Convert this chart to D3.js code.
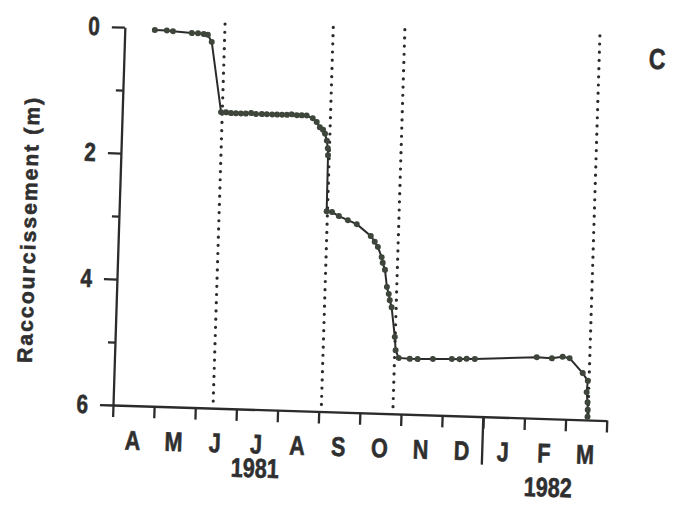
<!DOCTYPE html>
<html>
<head>
<meta charset="utf-8">
<script src="https://cdn.jsdelivr.net/npm/d3@7"></script>
<style>
  body { margin: 0; background: #ffffff; }
  svg text { font-family: "Liberation Sans", Arial, sans-serif; font-weight: bold; fill: #2f2f2f; stroke: #2f2f2f; stroke-width: 0.6px; }
</style>
</head>
<body>
<svg id="chart" width="674" height="508"></svg>
<script>
// Month initials, April 1981 to March 1982
const mois = ["A", "M", "J", "J", "A", "S", "O", "N", "D", "J", "F", "M"];
const graduationsY = [0, 2, 4, 6];
const graduationsMineures = [1, 3, 5];
const annees = ["1981", "1982"];
const positionAnnees = [3.49, 10.62];   // months since 1 April 1981
const separationAnnee = 9;               // 1 January 1982

// Survey dates (months since 1 April 1981) and cumulative shortening (m)
const temps = [
  0.73, 1.02, 1.17, 1.63, 1.78, 1.92, 2.02, 2.12,
  2.40, 2.52, 2.64, 2.76, 2.88, 3.00, 3.13, 3.25, 3.39, 3.51, 3.64, 3.76, 3.88, 4.00, 4.12, 4.24, 4.36, 4.48,
  4.63, 4.73, 4.81, 4.89, 4.94, 4.99, 5.02, 5.03,
  5.04, 5.17, 5.34, 5.56, 5.78, 6.13, 6.23, 6.31, 6.41, 6.44, 6.50, 6.56, 6.61, 6.64, 6.69, 6.79, 6.82,
  6.90, 7.17, 7.36, 7.73, 8.19, 8.38, 8.55, 8.75, 10.25, 10.62, 10.88, 11.05,
  11.38, 11.51, 11.49, 11.52, 11.53, 11.53
];
const raccourcissement = [
  0.03, 0.03, 0.04, 0.06, 0.06, 0.07, 0.08, 0.19,
  1.30, 1.30, 1.31, 1.31, 1.31, 1.31, 1.30, 1.31, 1.31, 1.31, 1.31, 1.31, 1.31, 1.31, 1.30, 1.31, 1.31, 1.31,
  1.35, 1.41, 1.49, 1.53, 1.59, 1.70, 1.82, 1.93,
  2.82, 2.83, 2.89, 2.95, 3.01, 3.19, 3.28, 3.36, 3.52, 3.61, 3.72, 3.99, 4.10, 4.20, 4.31, 4.78, 4.99,
  5.11, 5.12, 5.12, 5.11, 5.10, 5.10, 5.09, 5.09, 5.03, 5.04, 5.01, 5.03,
  5.26, 5.38, 5.56, 5.72, 5.84, 5.95
];
// Dotted reference verticals (months since 1 April 1981)
const reperes = [2.43, 5.06, 6.80, 11.54];

const encre = "#2b2b2b";
const svg = d3.select("#chart");
const plot = svg.append("g").attr("transform", "translate(113,405) rotate(1.8)");

const x = d3.scaleLinear().domain([0, 12]).range([0, 494]);
const y = d3.scaleLinear().domain([0, 6]).range([-378, 0]);
const compression = 0.8;

// Vertical axis: long ticks with labels, short intermediate ticks
const axeY = plot.append("g")
  .call(d3.axisLeft(y).tickValues(graduationsY).tickSize(13).tickSizeOuter(0).tickFormat(d3.format("d")));
plot.append("g")
  .call(d3.axisLeft(y).tickValues(graduationsMineures).tickSize(7).tickSizeOuter(0).tickFormat(""))
  .select(".domain").remove();
axeY.selectAll("text")
  .attr("x", -25 / compression)
  .attr("transform", `scale(${compression},1)`)
  .style("font-size", "26px");

// Horizontal axis: month boundaries
plot.append("g")
  .call(d3.axisBottom(x).tickValues(d3.range(13)).tickSize(12).tickSizeOuter(0).tickFormat(""));
plot.selectAll(".domain, .tick line").attr("stroke", encre).attr("stroke-width", 2.3);

plot.append("line")
  .attr("x1", x(separationAnnee)).attr("x2", x(separationAnnee))
  .attr("y1", 0).attr("y2", 48)
  .attr("stroke", encre).attr("stroke-width", 2.3);

plot.append("g").selectAll("text")
  .data(mois)
  .join("text")
  .attr("transform", (d, i) => `translate(${x(i + 0.5)},44) scale(${compression},1)`)
  .attr("text-anchor", "middle")
  .style("font-size", "27px")
  .text(d => d);

plot.append("g").selectAll("text")
  .data(annees)
  .join("text")
  .attr("transform", (d, i) => `translate(${x(positionAnnees[i])},${i === 0 ? 68 : 78}) scale(${compression},1)`)
  .attr("text-anchor", "middle")
  .style("font-size", "27px")
  .text(d => d);

// Dotted reference lines
plot.append("g").selectAll("line")
  .data(reperes)
  .join("line")
  .attr("x1", d => x(d)).attr("x2", d => x(d))
  .attr("y1", y(-0.1)).attr("y2", y(6))
  .attr("stroke", encre)
  .attr("stroke-width", 3.2)
  .attr("stroke-linecap", "round")
  .attr("stroke-dasharray", "0 8.2");

// Shortening curve
const points = temps.map((t, i) => ({ t, v: raccourcissement[i] }));
plot.append("path")
  .datum(points)
  .attr("fill", "none")
  .attr("stroke", encre)
  .attr("stroke-width", 2)
  .attr("d", d3.line().x(d => x(d.t)).y(d => y(d.v)));
plot.append("g").selectAll("circle")
  .data(points)
  .join("circle")
  .attr("cx", d => x(d.t))
  .attr("cy", d => y(d.v))
  .attr("r", 3)
  .attr("fill", "#3e463c");

// Axis title and panel letter
plot.append("text")
  .attr("transform", "translate(-90,-172) rotate(-90)")
  .attr("text-anchor", "middle")
  .attr("dy", "0.35em")
  .attr("textLength", 265)
  .attr("lengthAdjust", "spacing")
  .style("font-size", "21px")
  .text("Raccourcissement (m)");

plot.append("text")
  .attr("transform", `translate(533,-353) scale(${compression},1)`)
  .attr("text-anchor", "middle")
  .style("font-size", "29px")
  .text("C");
</script>
</body>
</html>
